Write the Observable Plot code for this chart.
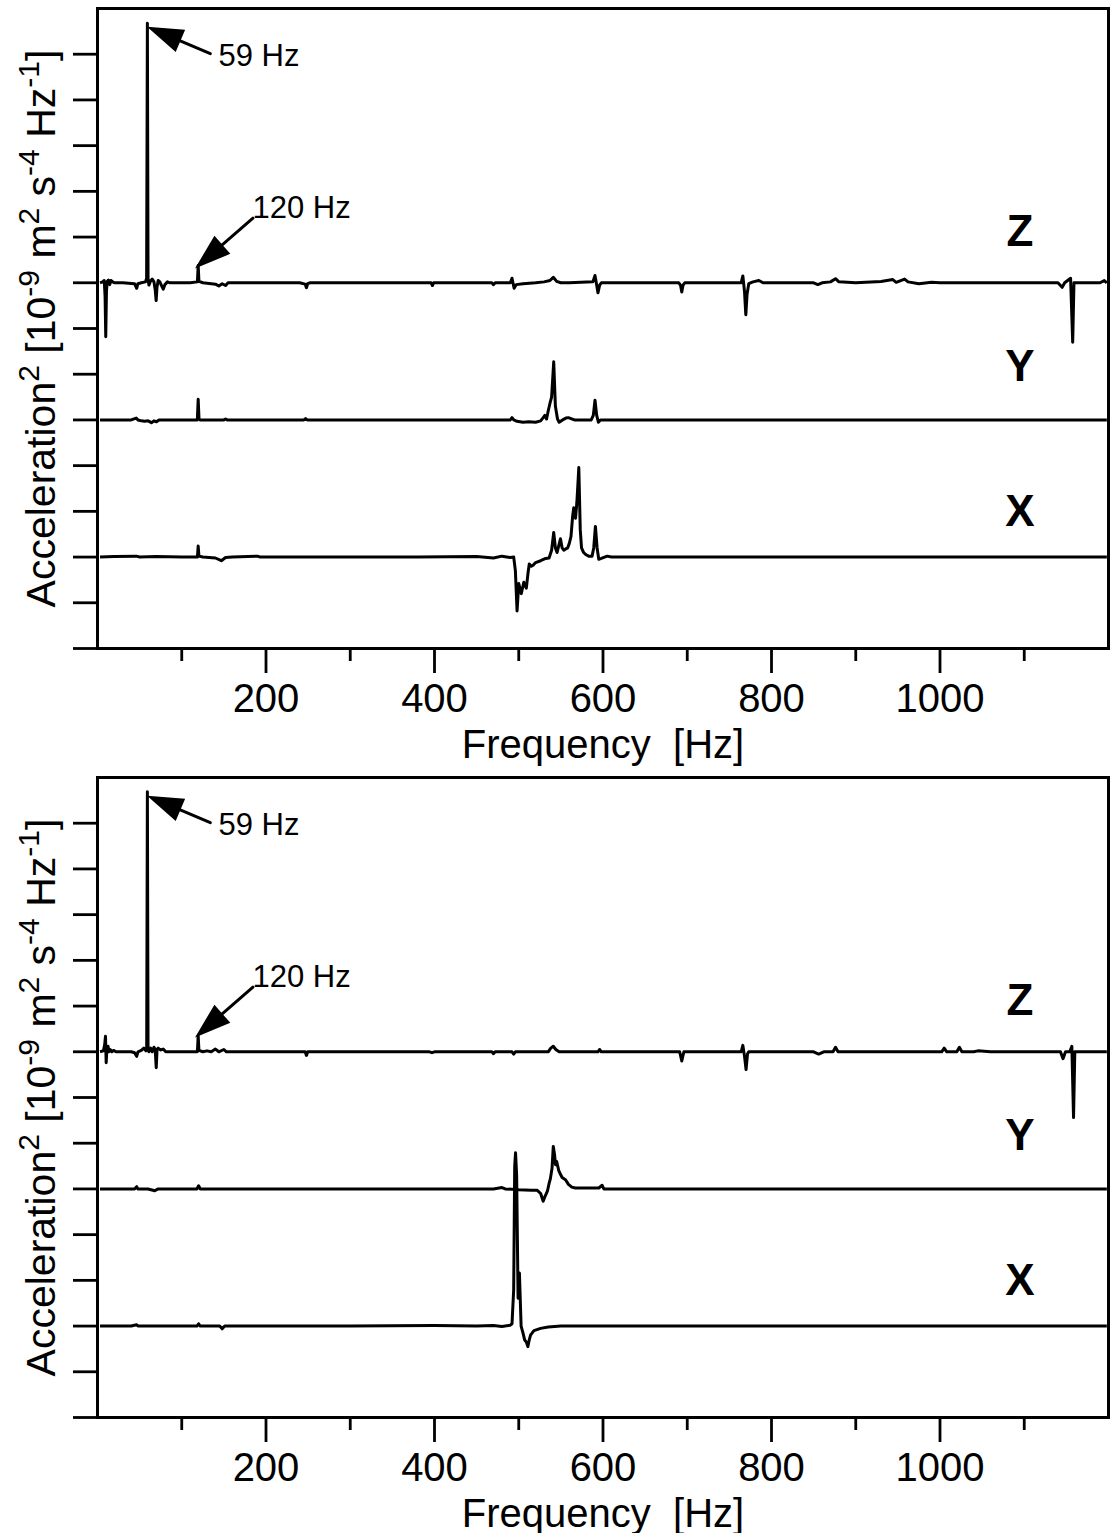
<!DOCTYPE html>
<html>
<head>
<meta charset="utf-8">
<script src="https://cdn.jsdelivr.net/npm/d3@7"></script>
<script src="https://cdn.jsdelivr.net/npm/@observablehq/plot@0.6"></script>
<style>
  html, body { margin: 0; padding: 0; background: #fff; }
  #chart { width: 1115px; }
  #chart svg { display: block; }
</style>
</head>
<body>
<div id="chart"></div>
<script>
// ---------------- DATA ----------------
// Each trace: [frequency (Hz), value relative to its own baseline]
const topZ = [[3,0],[6,0.02],[8,0.05],[9,-0.3],[9.8,-1.18],[10.6,-0.2],[11.5,0.03],[13,0.06],[14.5,-0.04],[16,0.05],[18,0.02],[20,0],[30,0],[44,-0.02],[46.5,-0.12],[48,-0.02],[52,0],[57,0.02],[58.3,0.1],[59.2,5.68],[60,0.1],[61,-0.05],[63,0.04],[65,0.08],[67,0.02],[68.5,-0.15],[69.6,-0.39],[70.6,-0.1],[72,0.05],[74,0.02],[76,-0.06],[78,-0.14],[80,-0.04],[83,0.02],[86,0],[110,0],[118.6,0.02],[119.5,0.38],[120.4,0.03],[125,0],[135,-0.02],[140,-0.03],[144,-0.07],[148,-0.02],[152,-0.06],[155,0],[240,0],[246.5,-0.03],[248,-0.11],[249.5,-0.02],[252,0],[396,0],[397.5,-0.06],[399,0],[468,0],[470,-0.04],[472,0],[490,0],[492,0.1],[494.5,-0.12],[497,-0.04],[505,-0.02],[520,0],[530,0.02],[537,0.05],[541,0.12],[545,0.03],[550,0],[560,0],[588,0.02],[590.5,0.16],[592.5,-0.05],[594,-0.22],[596,-0.05],[598,0],[690,0],[692,-0.05],[693.5,-0.2],[695,-0.05],[697,0],[764,0],[766,0.15],[768,-0.2],[769.5,-0.7],[771,-0.25],[773,-0.02],[778,0.02],[785,0.05],[790,0],[850,0],[855,-0.04],[860,0],[870,0.02],[876,0.09],[880,0.02],[900,0],[930,0.03],[944,0.07],[948,0.01],[958,0.08],[962,0.02],[975,-0.02],[990,0.01],[1000,0],[1140,0],[1145,-0.1],[1148,0],[1155,0.1],[1157.5,-1.3],[1159,0],[1165,0],[1190,0],[1195,0.05],[1198,0]];
const topY = [[3,0],[40,0],[46,0.04],[48,0],[52,-0.02],[56,-0.03],[60,-0.02],[64,-0.06],[67,-0.02],[70,-0.04],[73,0],[118.5,0],[119.5,0.45],[120.5,0.02],[122,0],[150,0],[152,0.02],[154,0],[245,0],[247,0.03],[249,0],[490,0],[492,0.05],[494,0],[498,-0.03],[505,-0.05],[512,-0.04],[520,-0.05],[526,-0.02],[529,0.05],[531,0.1],[533,0.02],[535,0.2],[537,0.36],[539,0.5],[541.5,1.27],[543.5,0.3],[546,0.02],[548,-0.05],[552,0],[556,0.04],[559,0.05],[562,0.03],[566,0],[586,0],[588.5,0.1],[590.5,0.43],[592.5,0.1],[594.5,-0.05],[597,0],[1198,0]];
const topX = [[3,0],[20,0.01],[46,0.02],[50,0],[70,0.01],[100,0],[118.6,0],[119.5,0.24],[120.4,0.02],[125,0],[140,-0.02],[147,-0.08],[152,-0.01],[160,0],[190,0.02],[193,0],[380,0],[450,0.01],[470,-0.02],[480,0.02],[490,-0.01],[494,0],[496,-0.3],[498,-1.18],[500,-0.58],[503,-0.8],[506,-0.55],[509,-0.68],[511,-0.35],[512.5,-0.15],[515,-0.2],[517,-0.18],[520,-0.12],[526,-0.08],[532,-0.03],[536,-0.02],[539,0.15],[541.5,0.54],[543.5,0.2],[545.5,0.1],[547.5,0.25],[549.5,0.4],[551.5,0.2],[553.5,0.15],[556,0.18],[558,0.2],[560,0.3],[562,0.45],[564,0.9],[565.3,1.08],[567.4,0.85],[569,1.2],[571.3,1.96],[573,0.6],[574.5,0.2],[577,0.1],[580,0.05],[583,0.02],[587,0.02],[589,0.2],[591,0.67],[593,0.2],[595,-0.05],[598,-0.03],[605,0.02],[610,0],[1198,0]];

const botZ = [[3,0],[7,0.02],[8.5,0.15],[9.5,0.34],[10.3,-0.24],[11,0.02],[12.5,0.12],[13.5,0],[15,0.05],[17,0],[19,0.03],[22,0],[40,0],[44,-0.02],[46.5,-0.1],[48,0],[52,0.03],[55,0.08],[57.5,0.02],[58.4,0.1],[59.2,5.69],[60,0.1],[61,0],[63,0.08],[65,0],[67,0.1],[68.5,0.05],[69.7,-0.35],[70.7,0.05],[72,0.08],[75,0.04],[78,0.06],[81,0],[118.6,0],[119.5,0.35],[120.4,0.03],[125,0],[130,0.02],[135,0],[140,0.06],[144,0],[150,0.05],[153,0],[246.5,0],[248,-0.08],[249.5,0],[394,0],[397,-0.02],[400,0],[468,0],[470,-0.04],[472,0],[492,0],[494,-0.05],[496,0],[535,0],[538,0.08],[541,0.12],[544,0.05],[548,0],[594,0],[596,0.05],[598,0],[691,0],[693.5,-0.2],[696,0],[764,0],[766,0.14],[768,-0.1],[769.8,-0.39],[771.5,-0.05],[773,0],[850,0],[856,-0.05],[862,0],[873,0],[876,0.1],[879,0],[1002,0],[1005,0.08],[1008,0],[1020,0],[1023,0.1],[1026,0],[1040,0],[1045,0.02],[1060,0],[1143,0],[1146,-0.15],[1149,0],[1154,0],[1156.5,0.12],[1158.5,-1.44],[1160,0],[1198,0]];
const botY = [[3,0],[44,0],[46.5,0.05],[48,0],[60,0],[68,-0.04],[72,0],[118,0],[120,0.07],[122,0],[400,0],[470,0],[480,0.03],[484,0],[500,-0.02],[515,-0.03],[522,-0.03],[526,-0.1],[529,-0.27],[531.5,-0.15],[534,-0.05],[536,0.12],[537.5,0.22],[539.5,0.45],[541,0.93],[542.5,0.75],[543.6,0.53],[545,0.6],[547.5,0.4],[549.5,0.32],[551.5,0.25],[555.5,0.2],[559,0.1],[563,0.04],[567,0.02],[580,0.02],[595,0.02],[599,0.08],[601,0],[1198,0]];
const botX = [[3,0],[40,0],[46.5,0.03],[48,0],[118,0],[120,0.05],[122,0],[145,0],[148,-0.06],[151,0],[300,0],[400,0.01],[450,0],[470,0.01],[480,-0.01],[490,0.02],[492,0.05],[494,0.8],[495.2,3.5],[496.2,3.79],[497.5,3.3],[499.2,0.61],[500.8,1.16],[502.8,0],[505,-0.15],[507,-0.3],[509,-0.35],[510.8,-0.45],[512.5,-0.3],[514,-0.2],[518,-0.1],[526,-0.05],[535,-0.02],[550,0],[1198,0]];

// baseline offsets of the stacked traces (in y-tick units)
const axisNames = ["Z", "Y", "X"];
const axisOffsets = [8, 5, 2];
// series label positions [frequency, y]
const seriesLabelPos = [[1095, 9.12], [1095, 6.15], [1095, 2.98]];

// annotations: label, arrow tip [f, y], text anchor [f, y]
const annLabels = ["59 Hz", "120 Hz"];
const annTips = [[64, 13.56], [120, 8.38]];
const annText = [[143.6, 12.95], [184, 9.63]];

// axes
const xMajorTicks = [200, 400, 600, 800, 1000];
const xMinorTicks = [100, 300, 500, 700, 900, 1100];
const yTicks = [0, 1, 2, 3, 4, 5, 6, 7, 8, 9, 10, 11, 12, 13];
const xLabel = "Frequency  [Hz]";
const yLabelParts = [["Acceleration", false], ["2", true], [" [10", false], ["-9", true], [" m", false], ["2", true], [" s", false], ["-4", true], [" Hz", false], ["-1", true], ["]", false]];

// ---------------- DRAWING ----------------
const FONT = "'Liberation Sans', Arial, Helvetica, sans-serif";
const arrowGeom = {"59 Hz": {len: 64, rot: -67}, "120 Hz": {len: 72, rot: -131}};

const filledArrow = {
  draw(context, l) {
    const h = 30, w = 10;
    context.moveTo(0, 0);
    context.lineTo(0, -l + h * 0.7);
    context.moveTo(0, -l);
    context.lineTo(-w, -l + h);
    context.lineTo(w, -l + h);
    context.closePath();
  }
};

const yLabelPlain = yLabelParts.map(d => d[0]).join("");

function panel(traces) {
  const rows = [];
  traces.forEach((tr, i) => {
    tr.forEach(([f, v]) => rows.push({axis: axisNames[i], f, y: v + axisOffsets[i]}));
  });
  const labels = axisNames.map((n, i) => ({n, f: seriesLabelPos[i][0], y: seriesLabelPos[i][1]}));
  const anns = annLabels.map((t, i) => ({t, tf: annTips[i][0], ty: annTips[i][1], xf: annText[i][0], xy: annText[i][1]}));

  const arrowMarks = anns.map(a => Plot.vector([a], {
    x: "tf", y: "ty", length: arrowGeom[a.t].len, rotate: arrowGeom[a.t].rot,
    anchor: "end", shape: filledArrow, stroke: "black", fill: "black", strokeWidth: 3, strokeLinejoin: "miter"
  }));

  const svg = Plot.plot({
    width: 1115,
    height: 769,
    marginLeft: 97,
    marginRight: 7,
    marginTop: 8,
    marginBottom: 121,
    x: {domain: [0, 1200]},
    y: {domain: [0, 14]},
    style: {fontFamily: FONT, color: "black", background: "white", overflow: "visible"},
    marks: [
      Plot.axisY(yTicks, {tickSize: 24, tickFormat: () => "", strokeWidth: 2.8, label: null}),
      Plot.axisX(xMajorTicks, {tickSize: 25, tickPadding: 10, fontSize: 40, strokeWidth: 2.8, label: null, tickFormat: d => String(d)}),
      Plot.axisX(xMinorTicks, {tickSize: 13, tickFormat: () => "", strokeWidth: 2.8, label: null}),
      Plot.line(rows, {x: "f", y: "y", z: "axis", stroke: "black", strokeWidth: 3, strokeLinejoin: "round", strokeLinecap: "butt"}),
      Plot.frame({strokeWidth: 3}),
      Plot.text(labels, {x: "f", y: "y", text: "n", fontSize: 44, fontWeight: "bold", textAnchor: "middle"}),
      ...arrowMarks,
      Plot.text(anns, {x: "xf", y: "xy", text: "t", fontSize: 31, textAnchor: "start"}),
      Plot.text([xLabel], {text: d => d, frameAnchor: "bottom", dy: 109, fontSize: 40, textAnchor: "middle"}),
      Plot.text([yLabelPlain], {text: d => d, frameAnchor: "left", rotate: -90, dx: -56, fontSize: 41, textAnchor: "middle"})
    ]
  });

  // superscripts for the y label
  d3.select(svg).selectAll("text").filter(function () { return this.textContent === yLabelPlain; })
    .each(function () {
      const t = d3.select(this);
      t.text(null);
      let raised = false;
      yLabelParts.forEach(([s, sup]) => {
        const ts = t.append("tspan").text(s);
        if (sup) {
          ts.attr("font-size", 30);
          if (!raised) { ts.attr("dy", -16); raised = true; }
        } else if (raised) {
          ts.attr("dy", 16); raised = false;
        }
      });
    });
  return svg;
}

const chart = document.getElementById("chart");
chart.appendChild(panel([topZ, topY, topX]));
chart.appendChild(panel([botZ, botY, botX]));
</script>
</body>
</html>
